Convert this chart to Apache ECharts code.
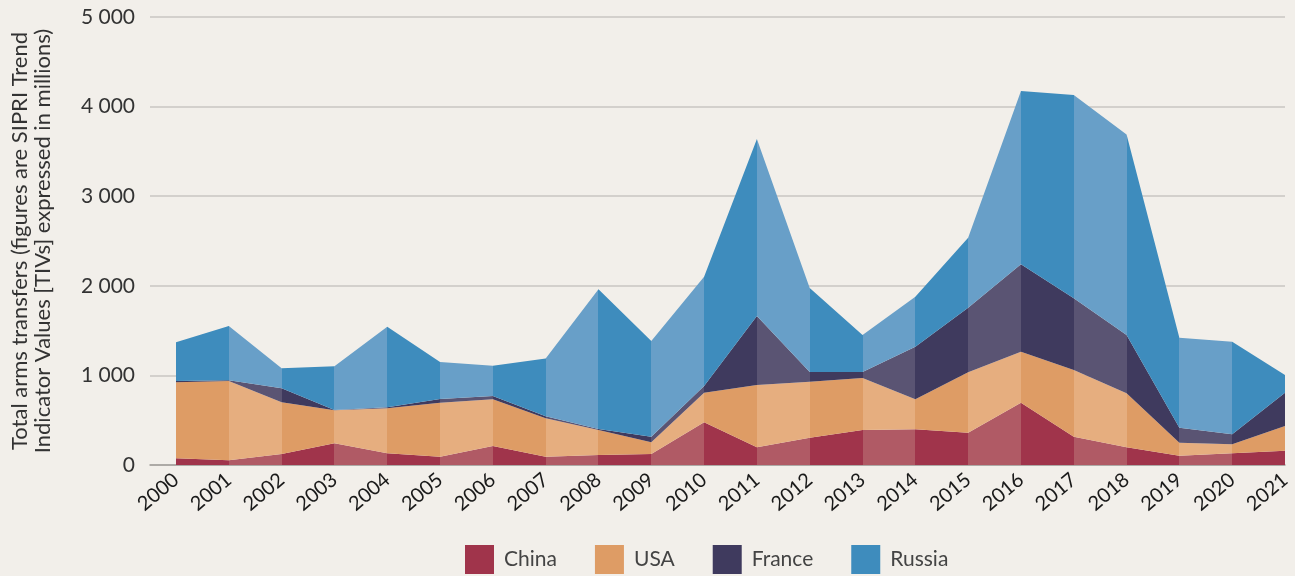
<!DOCTYPE html>
<html>
<head>
<meta charset="utf-8">
<script src="https://cdn.jsdelivr.net/npm/echarts@6/dist/echarts.min.js"></script>
<style>
html,body{margin:0;padding:0;background:#f2efea;}
#c{width:1295px;height:576px;}
</style>
</head>
<body>
<div id="c"></div>
<script>
const years = ['2000','2001','2002','2003','2004','2005','2006','2007','2008','2009','2010','2011','2012','2013','2014','2015','2016','2017','2018','2019','2020','2021'];
const seriesNames = ['China','USA','France','Russia'];
const china  = [75,52,123,242,130,93,212,93,112,123,476,197,305,391,398,361,696,316,197,104,130,160];
const usa    = [848,885,577,368,502,603,521,428,279,130,331,696,625,580,335,673,569,744,603,145,101,275];
const france = [14,8,156,4,12,41,37,22,11,63,75,770,108,67,588,722,975,800,651,168,111,372];
const russia = [432,606,223,487,900,413,339,647,1559,1068,1220,1975,937,413,558,781,1934,2269,2239,1004,1034,197];
const yMin = 0, yMax = 5000, yStep = 1000;

const palette = {
  China:  ['#a0344b', '#b05a65'],
  USA:    ['#de9c65', '#e6ae7f'],
  France: ['#3f3a5e', '#5a5473'],
  Russia: ['#3e8cbd', '#689fc8']
};
const values = [china, usa, france, russia];

function pieces(name) {
  const p = [];
  for (let i = 0; i < years.length - 1; i++) {
    p.push({ gte: i, lt: i + 1, color: palette[name][i % 2] });
  }
  p.push({ gte: years.length - 1, lte: years.length, color: palette[name][1] });
  return p;
}

const chart = echarts.init(document.getElementById('c'));
chart.setOption({
  backgroundColor: '#f2efea',
  textStyle: { fontFamily: 'Lato' },
  grid: [
    { left: 148, right: 10, top: 17, bottom: 111 },
    { left: 176, right: 10, top: 17, bottom: 111 }
  ],
  legend: {
    data: seriesNames,
    left: 465,
    top: 545,
    icon: 'rect',
    itemWidth: 29,
    itemHeight: 29,
    itemGap: 38,
    padding: 0,
    textStyle: { fontFamily: 'Lato', fontSize: 21, color: '#444', padding: [0, 0, 0, 5] }
  },
  visualMap: seriesNames.map((n, i) => ({
    type: 'piecewise', show: false, seriesIndex: i, dimension: 0, pieces: pieces(n)
  })),
  xAxis: [
    {
      gridIndex: 0,
      type: 'value',
      min: 0,
      max: 1,
      axisLabel: { show: false },
      axisTick: { show: false },
      splitLine: { show: false },
      axisLine: { show: true, lineStyle: { color: '#a19d99', width: 1.5 } }
    },
    {
      gridIndex: 1,
      type: 'category',
      data: years,
      boundaryGap: false,
      axisTick: { show: false },
      axisLine: { show: false },
      splitLine: { show: false },
      axisLabel: {
        interval: 0,
        rotate: 40,
        margin: 12,
        fontFamily: 'Lato',
        fontSize: 20,
        color: '#1a1a1a'
      }
    }
  ],
  yAxis: [
    {
      gridIndex: 0,
      type: 'value',
      min: yMin,
      max: yMax,
      interval: yStep,
      name: 'Total arms transfers (figures are SIPRI Trend\nIndicator Values [TIVs] expressed in millions)',
      nameLocation: 'middle',
      nameGap: 96,
      nameTextStyle: { fontFamily: 'Lato', fontSize: 22, color: '#333', lineHeight: 23 },
      axisLine: { show: false },
      axisTick: { show: false },
      splitLine: { lineStyle: { color: '#c9c6c2', width: 1.5 } },
      axisLabel: {
        margin: 15,
        fontFamily: 'Lato',
        fontSize: 21,
        color: '#333',
        formatter: v => String(v).replace(/\B(?=(\d{3})+(?!\d))/g, ' ')
      }
    },
    {
      gridIndex: 1,
      type: 'value',
      min: yMin,
      max: yMax,
      interval: yStep,
      show: false,
      splitLine: { show: false }
    }
  ],
  series: seriesNames.map((n, i) => ({
    name: n,
    type: 'line',
    xAxisIndex: 1,
    yAxisIndex: 1,
    stack: 'total',
    showSymbol: false,
    symbol: 'none',
    silent: true,
    z: 3,
    itemStyle: { color: palette[n][0] },
    lineStyle: { width: 0, opacity: 0 },
    areaStyle: { opacity: 1 },
    data: values[i]
  }))
});
</script>
</body>
</html>
